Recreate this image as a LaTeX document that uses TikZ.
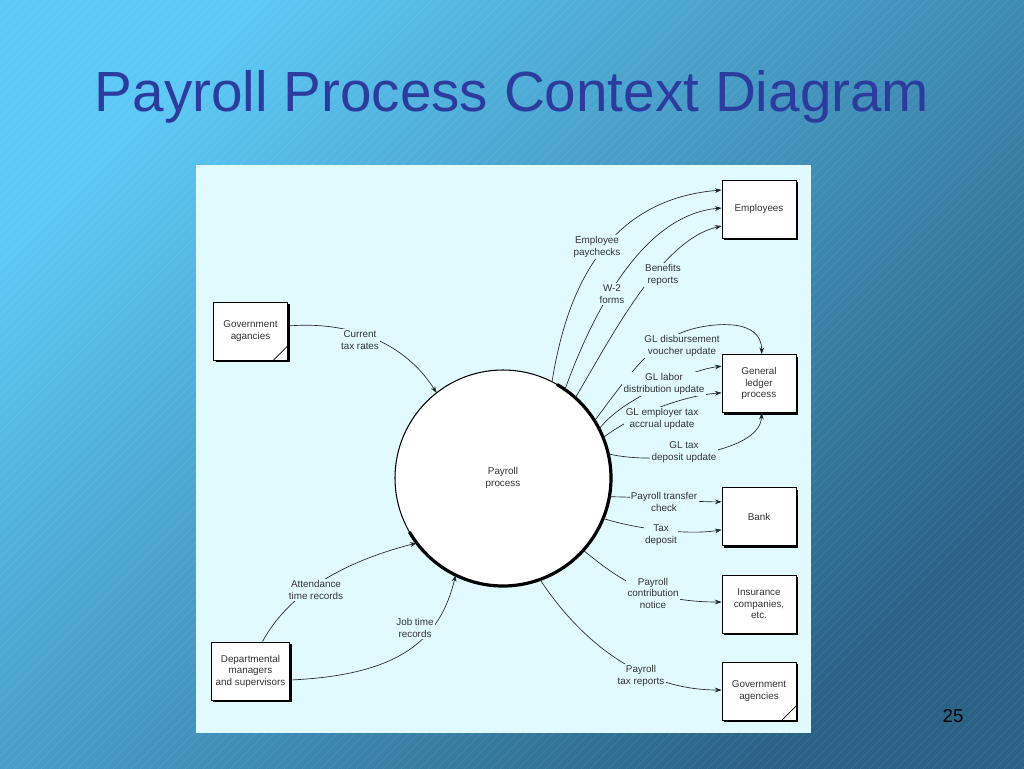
\documentclass[tikz,border=0pt]{standalone}
\usepackage{fontspec}
\setmainfont{Liberation Sans}
\usetikzlibrary{arrows.meta,shadows}
\definecolor{panel}{HTML}{E0FAFF}
\definecolor{ttl}{HTML}{2C3C9E}
\definecolor{txt}{HTML}{333333}
\definecolor{bgl}{HTML}{5CC8F5}
\definecolor{bgd}{HTML}{2A6286}
\begin{document}
\begin{tikzpicture}[x=0.75pt,y=-0.75pt,
  box/.style={draw=black,fill=white,line width=0.6pt,minimum width=55.5pt,minimum height=43.5pt,align=center,font=\fontsize{7.4}{8.6}\selectfont,text=txt,drop shadow={shadow xshift=1.6pt,shadow yshift=-1.6pt,fill=black,opacity=1}},
  lab/.style={fill=panel,inner sep=1pt,align=center,font=\fontsize{7.4}{8.6}\selectfont,text=txt},
  flow/.style={draw=black!85,line width=0.5pt,-{Stealth[length=5pt,width=3.5pt]}}]
\useasboundingbox (0,0) rectangle (1024,768);
\shade[top color=bgl,bottom color=bgd,shading angle=45] (0,0) rectangle (1024,768);
\begin{scope}
\clip (0,0) rectangle (1024,768);
\foreach \i in {0,9,...,1800} {\draw[white,opacity=0.1,line width=0.5pt] (\i,0) -- (\i-800,800);}
\end{scope}
\node[font=\fontsize{42.5}{44}\selectfont,text=ttl] (title) at (512,97) {Payroll Process Context Diagram};
\node[font=\fontsize{14}{16}\selectfont,text=black] (pg) at (953,716) {25};
\fill[panel] (196,165) rectangle (811,733);
\node[circle,draw,fill=white,line width=0.8pt,minimum size=162pt,outer sep=0pt,inner sep=0pt,font=\fontsize{7.4}{8.6}\selectfont,text=txt,align=center] (P) at (503,478) {Payroll\\process};
\draw[line width=2.4pt] (P.60) arc[start angle=60,end angle=-150,radius=81pt];
\node[box] (emp) at (759,209) {Employees};
\node[box] (gl) at (759,383.5) {General\\ledger\\process};
\node[box] (bank) at (759,516.5) {Bank};
\node[box] (ins) at (759,604) {Insurance\\companies,\\etc.};
\node[box] (gov2) at (759,691) {Government\\agencies};
\node[box] (gov1) at (250.5,331) {Government\\agancies};
\node[box] (dept) at (250.5,671) {Departmental\\managers\\and supervisors};
\draw[line width=0.5pt] ([xshift=-11pt]gov2.south east) -- ([yshift=11pt]gov2.south east);
\draw[line width=0.5pt] ([xshift=-11pt]gov1.south east) -- ([yshift=11pt]gov1.south east);
% flows
\draw[flow] (P.63.7) .. controls (565,300) and (600,200) .. ([yshift=14.25pt]emp.west);
\draw[flow] (P.55.7) .. controls (590,320) and (640,215) .. ([yshift=0.75pt]emp.west);
\draw[flow] (P.48) .. controls (610,340) and (660,240) .. ([yshift=-12.75pt]emp.west);
\draw[flow] (P.32.5) .. controls (640,360) and (660,330) .. (715,325) .. controls (750,322) and (762,335) .. ([xshift=2pt]gl.north);
\draw[flow] (P.27.8) .. controls (620,400) and (690,370) .. ([yshift=13pt]gl.west);
\draw[flow] (P.22.9) .. controls (640,410) and (690,395) .. ([yshift=-7pt]gl.west);
\draw[flow] (P.13) .. controls (650,465) and (760,455) .. ([xshift=2pt]gl.south);
\draw[flow] (P.-10) .. controls (650,497) and (690,502) .. ([yshift=11pt]bank.west);
\draw[flow] (P.-22) .. controls (640,530) and (690,535) .. ([yshift=-10pt]bank.west);
\draw[flow] (P.-42.5) .. controls (620,580) and (650,602) .. ([yshift=1.5pt]ins.west);
\draw[flow] (P.-70) .. controls (580,640) and (640,690) .. ([yshift=0.75pt]gov2.west);
\draw[flow] ([yshift=3.75pt]gov1.east) .. controls (360,320) and (410,350) .. (P.128.5);
\draw[flow] ([xshift=9pt]dept.north) .. controls (290,590) and (350,560) .. (P.217.7);
\draw[flow] ([yshift=-6.75pt]dept.east) .. controls (400,675) and (440,640) .. (P.244.8);
% labels
\node[lab] (l1) at (597,247) {Employee\\paychecks};
\node[lab] (l2) at (612,294) {W-2\\forms};
\node[lab] (l3) at (663,275) {Benefits\\reports};
\node[lab] (l4) at (682,346) {GL disbursement\\voucher update};
\node[lab] (l5) at (664,384) {GL labor\\distribution update};
\node[lab] (l6) at (662,419) {GL employer tax\\accrual update};
\node[lab] (l7) at (684,452) {GL tax\\deposit update};
\node[lab] (l8) at (664,502) {Payroll transfer\\check};
\node[lab] (l9) at (661,535) {Tax\\deposit};
\node[lab] (l10) at (653,593) {Payroll\\contribution\\notice};
\node[lab] (l11) at (641,676) {Payroll\\tax reports};
\node[lab] (l12) at (360,340) {Current\\tax rates};
\node[lab] (l13) at (316,590) {Attendance\\time records};
\node[lab] (l14) at (415,628) {Job time\\records};
\end{tikzpicture}
\end{document}
